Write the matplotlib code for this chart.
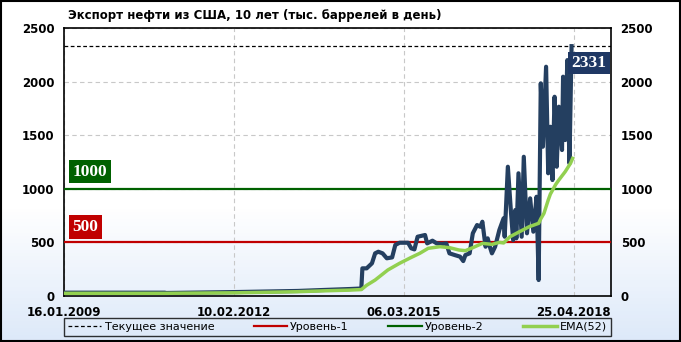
import numpy as np
import matplotlib
matplotlib.use('Agg')
import matplotlib.pyplot as plt
from matplotlib.colors import LinearSegmentedColormap

# недельный индекс (0 = 16.01.2009) и экспорт, тыс. баррелей в день
weeks = [0, 95, 96, 163, 220, 244, 269, 280, 281, 285, 290, 293, 296, 300, 304,
         309, 312, 316, 324, 327, 330, 333, 340, 342, 347, 351, 356, 360, 363,
         368, 373, 376, 378, 382, 385, 389, 392, 394, 397, 399, 401, 403, 406,
         410, 414, 415, 418, 421, 423, 425, 426, 428, 431, 433, 436, 439, 442,
         445, 447, 449, 451, 454, 456, 458, 460, 462, 464, 466, 469, 470, 472,
         474, 476, 478]
export = [31, 31, 28, 37, 47, 56, 65, 70, 258, 258, 305, 398, 413, 398, 352,
          360, 476, 497, 497, 445, 435, 553, 569, 491, 516, 491, 485, 491, 398,
          382, 367, 326, 382, 398, 585, 662, 646, 693, 460, 538, 460, 398, 460,
          616, 725, 553, 1206, 771, 522, 802, 538, 1145, 553, 1299, 585, 911, 600,
          926, 149, 1984, 1393, 2139, 1145, 1579, 1082, 1859, 1206, 1766, 1362, 2046, 1455,
          2201, 1238, 2331]

ema_weeks = [0, 95, 163, 220, 244, 269, 280, 285, 293, 305, 316, 327, 335, 343,
             354, 363, 372, 378, 385, 394, 403, 410, 414, 420, 429, 438, 447, 449,
             452, 456, 458, 463, 466, 472, 477, 479]
ema52 = [25, 25, 30, 40, 48, 55, 60, 100, 149, 243, 305, 360, 398, 445,
         460, 451, 429, 423, 451, 491, 482, 500, 495, 553, 600, 646, 678, 720,
         771, 895, 950, 1040, 1082, 1160, 1238, 1284]

level1 = 500
level2 = 1000
current = 2331

tick_weeks = [0, 160, 320, 480]
tick_labels = ['16.01.2009', '10.02.2012', '06.03.2015', '25.04.2018']

fig = plt.figure(figsize=(6.81, 3.42), dpi=100)

# фон: белый сверху, светло-голубой снизу
bg = fig.add_axes([0, 0, 1, 1], zorder=-10)
grad = np.concatenate([np.zeros(60), np.linspace(0, 1, 40)]).reshape(-1, 1)
cmap = LinearSegmentedColormap.from_list('bg', ['#ffffff', '#dde9f9'])
bg.imshow(grad, aspect='auto', cmap=cmap, extent=[0, 1, 0, 1], origin='upper')
bg.set_xlim(0, 1)
bg.set_ylim(0, 1)
bg.axis('off')
bg.add_patch(plt.Rectangle((0.001, 0.002), 0.997, 0.995, fill=False,
                           edgecolor='black', lw=1.5, transform=bg.transAxes))

ax = fig.add_axes([0.094, 0.1345, 0.803, 0.7835])
ax.set_facecolor('none')

ax.axhline(current, color='black', lw=0.9, ls=(0, (3, 2)), label='Текущее значение', zorder=3)
ax.axhline(level1, color='#c00000', lw=1.6, label='Уровень-1', zorder=3)
ax.axhline(level2, color='#006100', lw=1.6, label='Уровень-2', zorder=3)
ax.plot(weeks, export, color='#243f60', lw=3, solid_joinstyle='round', zorder=4)
ax.plot(ema_weeks, ema52, color='#92d050', lw=2.5, label='EMA(52)', zorder=5)

ax.set_xlim(0, 515)
ax.set_ylim(0, 2500)
ax.set_yticks(range(0, 2501, 500))
ax.set_xticks(tick_weeks)
ax.set_xticklabels(tick_labels)
ax.grid(True, color='#c8c8c8', ls=(0, (4, 3)), lw=0.8)
ax.tick_params(axis='both', length=0, labelsize=8.5, pad=7)
ax.tick_params(axis='y', labelleft=True, labelright=True)
for lab in ax.get_xticklabels() + ax.get_yticklabels():
    lab.set_fontweight('bold')
for s in ax.spines.values():
    s.set_color('black')
    s.set_linewidth(1.2)

# подписи уровней
box_font = dict(color='white', fontsize=12.5, fontweight='bold',
                family='Liberation Serif', va='center', ha='left', zorder=6)
ax.text(8, 1161, '1000', bbox=dict(boxstyle='square,pad=0.22', fc='#006100', ec='none'), **box_font)
ax.text(8, 644, '500', bbox=dict(boxstyle='square,pad=0.22', fc='#c00000', ec='none'), **box_font)
ax.text(478, 2173, str(current), bbox=dict(boxstyle='square,pad=0.18', fc='#1f3864', ec='none'), **box_font)

fig.text(0.1, 0.955, 'Экспорт нефти из США, 10 лет (тыс. баррелей в день)',
         fontsize=8.5, fontweight='bold', va='center', ha='left')

leg = fig.legend(loc='lower left', bbox_to_anchor=(0.094, 0.018, 0.803, 0.052),
                 mode='expand', ncol=4, fontsize=8, frameon=True, fancybox=False,
                 handlelength=3, borderpad=0.35, handletextpad=0.3, borderaxespad=0)
leg.get_frame().set_edgecolor('black')
leg.get_frame().set_linewidth(1.0)
leg.get_frame().set_facecolor('none')

fig.savefig('out.png', dpi=100)
